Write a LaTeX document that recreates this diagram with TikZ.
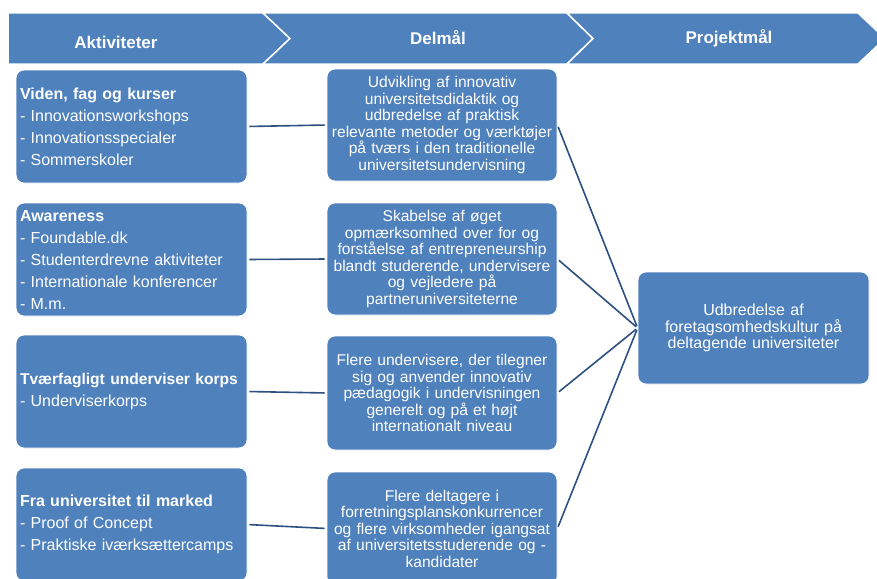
\documentclass[tikz,border=0pt]{standalone}
\usepackage{fontspec}
\setmainfont{Liberation Sans}
\definecolor{boxblue}{HTML}{4F81BD}
\definecolor{linkblue}{HTML}{2D5080}
\begin{document}
\begin{tikzpicture}[x=1pt,y=-1pt,
  chev/.style={fill=boxblue,draw=white,line width=1.5pt},
  headtext/.style={text=white,font=\bfseries\fontsize{17}{19}\selectfont},
  actbox/.style={fill=boxblue,draw=white,line width=0.8pt,rounded corners=8pt,text=white,
    text width=223pt,inner xsep=4pt,minimum width=231pt,minimum height=113pt,align=left,
    font=\fontsize{16}{22}\selectfont},
  midbox/.style={fill=boxblue,draw=white,line width=0.8pt,rounded corners=8pt,text=white,
    text width=226pt,inner xsep=2pt,minimum width=230pt,minimum height=112pt,align=center,
    font=\fontsize{15.6}{16.5}\selectfont},
  link/.style={draw=linkblue,line width=1.6pt,shorten <=2pt,shorten >=2pt}]
\clip (0,0) rectangle (877,578);
\fill[white] (0,0) rectangle (877,578);
% header band
\draw[chev] (8,13) -- (263,13) -- (290,38.5) -- (263,64) -- (8,64) -- cycle;
\draw[chev] (263,13) -- (567,13) -- (593,38.5) -- (567,64) -- (263,64) -- (290,38.5) -- cycle;
\draw[chev] (567,13) -- (858,13) -- (885,38.5) -- (858,64) -- (567,64) -- (593,38.5) -- cycle;
\node[headtext] (h1) at (116,42) {Aktiviteter};
\node[headtext] (h2) at (438,38) {Delmål};
\node[headtext] (h3) at (729,38) {Projektmål};
% activities
\node[actbox] (a1) at (131.5,126.5) {\textbf{Viden, fag og kurser}\\- Innovationsworkshops\\- Innovationsspecialer\\- Sommerskoler};
\node[actbox] (a2) at (131.5,259.5) {\textbf{Awareness}\\- Foundable.dk\\- Studenterdrevne aktiviteter\\- Internationale konferencer\\- M.m.};
\node[actbox] (a3) at (131.5,391.5) {\mbox{\fontsize{15.6}{22}\selectfont\textbf{Tværfagligt underviser korps}}\\- Underviserkorps};
\node[actbox] (a4) at (131.5,524.5) {\textbf{Fra universitet til marked}\\- Proof of Concept\\- Praktiske iværksættercamps};
% sub goals
\node[midbox] (m1) at (442,125) {Udvikling af innovativ\\universitetsdidaktik og\\udbredelse af praktisk\\relevante metoder og værktøjer\\på tværs i den traditionelle\\universitetsundervisning};
\node[midbox] (m2) at (442,259) {Skabelse af øget\\opmærksomhed over for og\\forståelse af entrepreneurship\\blandt studerende, undervisere\\og vejledere på\\partneruniversiteterne};
\node[midbox,minimum height=114pt] (m3) at (442,393) {Flere undervisere, der tilegner\\sig og anvender innovativ\\pædagogik i undervisningen\\generelt og på et højt\\internationalt niveau};
\node[midbox,minimum height=113pt] (m4) at (442,528.5) {Flere deltagere i\\forretningsplanskonkurrencer\\og flere virksomheder igangsat\\af universitetsstuderende og -\\kandidater};
% project goal
\node[midbox,minimum width=231pt,text width=227pt,font=\fontsize{16}{16.5}\selectfont] (p) at (753.5,328) {Udbredelse af\\foretagsomhedskultur på\\deltagende universiteter};
% connectors
\draw[link] (a1.east) -- (m1.west);
\draw[link] (a2.east) -- (m2.west);
\draw[link] (a3.east) -- (m3.west);
\draw[link] (a4.east) -- (m4.west);
\draw[link] (m1.east) -- (p.west);
\draw[link] (m2.east) -- (p.west);
\draw[link] (m3.east) -- (p.west);
\draw[link] (m4.east) -- (p.west);
\end{tikzpicture}
\end{document}
